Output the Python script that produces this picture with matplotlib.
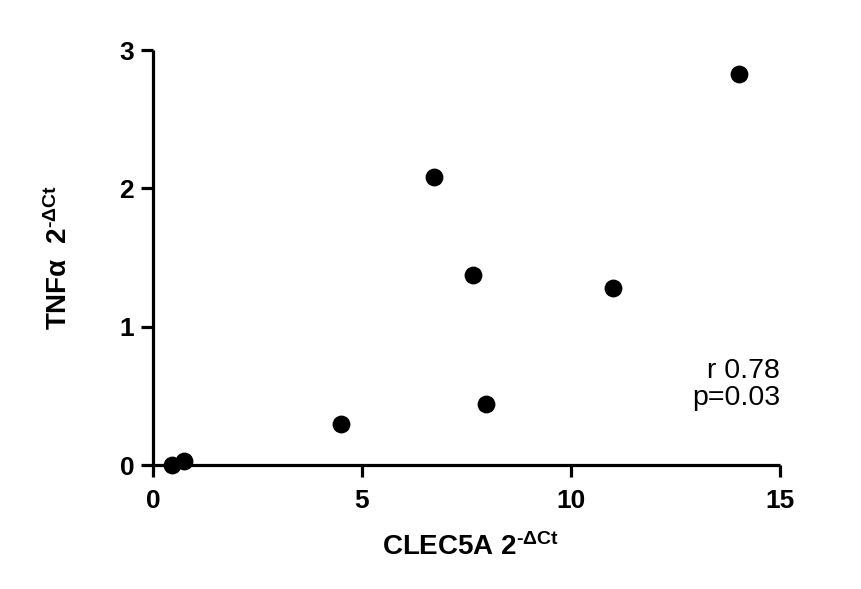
import matplotlib
matplotlib.use("Agg")
from matplotlib import pyplot as plt

# CLEC5A vs TNFa expression (2^-dCt)
clec5a = [0.45, 0.74, 4.5, 6.72, 7.66, 7.97, 11.0, 14.02]
tnfa = [0.0, 0.03, 0.30, 2.08, 1.37, 0.44, 1.28, 2.83]
x_ticks = [0, 5, 10, 15]
y_ticks = [0, 1, 2, 3]

plt.rcParams['font.family'] = ['Liberation Sans', 'DejaVu Sans']
plt.rcParams['mathtext.fontset'] = 'custom'
plt.rcParams['mathtext.rm'] = 'Liberation Sans:bold'
plt.rcParams['mathtext.it'] = 'Liberation Sans:bold'
plt.rcParams['mathtext.bf'] = 'Liberation Sans:bold'
plt.rcParams['mathtext.default'] = 'rm'

fig = plt.figure(figsize=(8.61, 5.89), dpi=100)
ax = fig.add_axes([0.1777, 0.2105, 0.9059 - 0.1777, 0.9151 - 0.2105])

ax.scatter(clec5a, tnfa, s=140, color='black', zorder=3, clip_on=False)

ax.set_xlim(0, 15)
ax.set_ylim(0, 3)
ax.set_xticks(x_ticks)
ax.set_yticks(y_ticks)
ax.spines['top'].set_visible(False)
ax.spines['right'].set_visible(False)
for s in ['left', 'bottom']:
    ax.spines[s].set_linewidth(2.3)
    ax.spines[s].set_capstyle('butt')
ax.tick_params(width=2.3, length=8.5, direction='out', labelsize=19)
ax.tick_params(axis='x', pad=9)
ax.tick_params(axis='y', pad=5)
for lab in ax.get_xticklabels() + ax.get_yticklabels():
    lab.set_fontweight('bold')

# hyphen instead of the math minus, as in the original
ax.set_xlabel('CLEC5A 2$^{\u2010\\Delta Ct}$', fontsize=20, fontweight='bold')
ax.set_ylabel('TNF$\\alpha$  2$^{\u2010\\Delta Ct}$', fontsize=20, fontweight='bold')
ax.xaxis.set_label_coords(0.506, -0.165)
ax.yaxis.set_label_coords(-0.127, 0.5)

ax.text(1.0, 0.21, 'r 0.78', transform=ax.transAxes, ha='right', va='baseline', fontsize=20.5)
ax.text(1.0, 0.145, 'p=0.03', transform=ax.transAxes, ha='right', va='baseline', fontsize=20.5)

plt.savefig('out.png', dpi=100)
